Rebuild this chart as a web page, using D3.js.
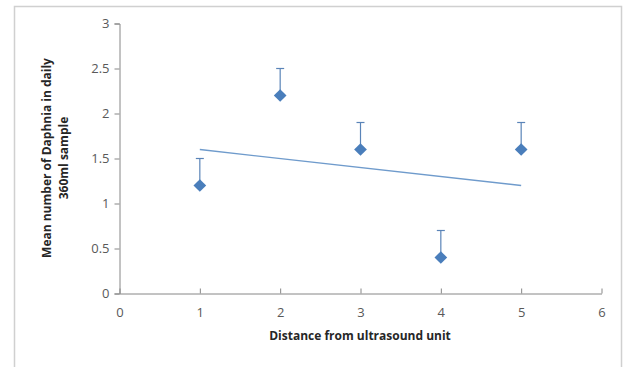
<!DOCTYPE html>
<html><head><meta charset="utf-8">
<script src="https://cdn.jsdelivr.net/npm/d3@7"></script>
<style>body{margin:0;background:#fff;} svg{display:block;}</style>
</head><body>
<svg id="c" width="627" height="367"></svg>
<script>
const distance = [1, 2, 3, 4, 5];
const meanDaphnia = [1.2, 2.2, 1.6, 0.4, 1.6];
const errorUp = [0.3, 0.3, 0.3, 0.3, 0.3];
const xTicks = [0, 1, 2, 3, 4, 5, 6];
const yTicks = [0, 0.5, 1, 1.5, 2, 2.5, 3];

const svg = d3.select("#c");
const blue = "#4a7ebb", gray = "#868686";
const font = "'Open Sans', 'Noto Sans', sans-serif";

svg.append("rect").attr("x", 14.5).attr("y", 6.5).attr("width", 607).attr("height", 370)
  .attr("fill", "#fff").attr("stroke", "#d0d0d0").attr("stroke-width", 1.5);

const x = d3.scaleLinear().domain([0, 6]).range([119.5, 601.5]);
const y = d3.scaleLinear().domain([0, 3]).range([293.5, 23.5]);

// y axis
const ya = svg.append("g").attr("transform", `translate(${x(0)},0)`)
  .call(d3.axisLeft(y).tickValues(yTicks).tickSize(5).tickPadding(5).tickFormat(d3.format("")));
ya.select(".domain").attr("stroke", gray);
ya.selectAll(".tick line").attr("stroke", gray);
ya.selectAll("text").attr("fill", "#595959").style("font-family", font).style("font-size", "13px");

// x axis
const xa = svg.append("g").attr("transform", `translate(0,${y(0)})`)
  .call(d3.axisBottom(x).tickValues(xTicks).tickSize(0).tickPadding(14).tickFormat(d3.format("")));
xa.select(".domain").attr("stroke", gray);
xa.selectAll(".tick").append("line").attr("y1", 0).attr("y2", -5).attr("stroke", gray);
xa.selectAll("text").attr("fill", "#595959").style("font-family", font).style("font-size", "13px");

// trend line (least squares)
const mx = d3.mean(distance), my = d3.mean(meanDaphnia);
const slope = d3.sum(distance, (d, i) => (d - mx) * (meanDaphnia[i] - my)) / d3.sum(distance, d => (d - mx) ** 2);
const icpt = my - slope * mx;
const x0 = d3.min(distance), x1 = d3.max(distance);
svg.append("line").attr("x1", x(x0)).attr("y1", y(icpt + slope * x0))
  .attr("x2", x(x1)).attr("y2", y(icpt + slope * x1))
  .attr("stroke", "#6f9bcc").attr("stroke-width", 1.3);

// error bars (plus only)
const eb = svg.append("g");
distance.forEach((d, i) => {
  const top = meanDaphnia[i] + errorUp[i];
  eb.append("line").attr("x1", x(d)).attr("x2", x(d)).attr("y1", y(meanDaphnia[i])).attr("y2", y(top))
    .attr("stroke", "#5a84b8").attr("stroke-width", 1.2);
  eb.append("line").attr("x1", x(d) - 4).attr("x2", x(d) + 4).attr("y1", y(top)).attr("y2", y(top))
    .attr("stroke", "#5a84b8").attr("stroke-width", 1.2);
});

// markers
svg.append("g").selectAll("path").data(distance).join("path")
  .attr("transform", (d, i) => `translate(${x(d)},${y(meanDaphnia[i])}) rotate(45)`)
  .attr("d", "M-4.5,-4.5H4.5V4.5H-4.5Z").attr("fill", blue);

// axis titles
svg.append("text").attr("x", 360).attr("y", 340).attr("text-anchor", "middle")
  .style("font-family", font).style("font-size", "12px").style("font-weight", "bold").attr("fill", "#262626")
  .text("Distance from ultrasound unit");
const yt = svg.append("text").attr("transform", "translate(51,158) rotate(-90)").attr("text-anchor", "middle")
  .style("font-family", font).style("font-size", "12px").style("font-weight", "bold").attr("fill", "#262626");
yt.append("tspan").attr("x", 0).attr("dy", 0).text("Mean number of Daphnia in daily");
yt.append("tspan").attr("x", 0).attr("dy", 17).text("360ml sample");
</script>
</body></html>
